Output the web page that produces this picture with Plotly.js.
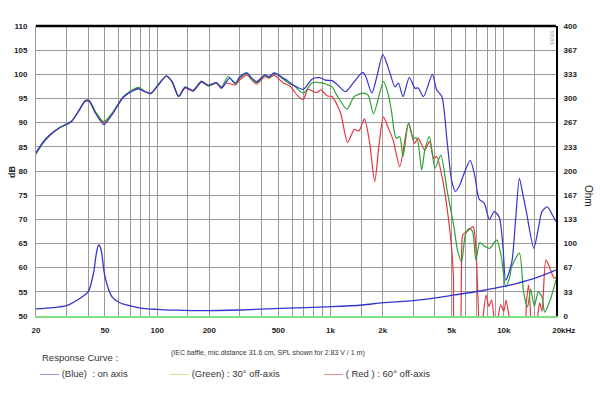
<!DOCTYPE html>
<html><head><meta charset="utf-8">
<script src="https://cdn.plot.ly/plotly-3.0.1.min.js"></script>
<style>html,body{margin:0;padding:0;background:#fff}#chart{width:600px;height:400px}</style>
</head><body><div id="chart"></div>
<script>
// ---- data ----
const blueFreq = [20,22,24.1,27.5,32.1,35.5,38.4,40.6,44,49.3,54.8,63.5,70,77.9,84,91.9,100,113,122,133,145,161,180,197,220,235,262,282,300,330,350,375,419,440,474,535,560,608,697,782,869,933,1021,1100,1222,1371,1535,1600,1731,1850,2003,2100,2206,2356,2465,2620,2848,3080,3200,3440,3870,4096,4390,4700,5000,5250,5520,5900,6400,6800,7200,7720,8250,8800,9400,9900,10250,11100,11700,12300,12900,13500,14900,15800,16600,17800,19000,20000];
const blueDb   = [83.8,86.0,87.5,89.0,90.3,92.6,94.5,94.5,92.0,89.6,91.6,95.2,96.3,97.0,96.5,96.1,97.5,99.7,98.5,95.4,97.3,96.6,98.5,97.8,98.3,97.2,99.2,98.2,99.5,100.3,99.3,98.5,99.9,99.5,100.3,99.2,98.8,97.8,96.9,99.0,99.3,98.8,98.7,97.8,96.4,98.5,100.4,99.5,96.1,99.5,104.1,102.5,100.2,97.4,98.2,95.4,99.3,97.1,97.2,95.4,100.0,96.8,95.4,86.4,78.0,75.8,76.8,79.5,82.2,79.0,74.2,73.3,70.0,71.6,70.5,64.0,57.4,61.0,70.0,78.5,75.0,71.5,64.0,68.0,71.6,72.6,71.0,69.5];

const greenFreq = [20,22,24.1,27.5,32.1,35.5,38.4,40.6,44,49.3,54.8,63.5,70,77.9,84,91.9,100,113,122,133,145,161,180,197,220,235,257,282,300,330,350,375,419,440,474,535,584,608,697,782,869,1021,1087,1243,1371,1535,1650,1770,2021,2150,2250,2390,2510,2620,2820,3000,3150,3360,3500,3720,4010,4330,4700,5150,5400,5700,6000,6300,6600,6900,7270,7700,8270,9100,9700,10250,10800,11100,12300,13000,13700,14300,15000,15800,16600,17200,18600,20000];
const greenDb   = [83.5,85.8,87.4,89.0,90.3,92.6,94.6,94.6,92.3,90.2,91.9,95.3,96.5,97.3,96.6,96.0,97.6,99.6,98.4,95.5,97.4,96.7,98.6,97.6,98.2,97.4,99.6,98.0,99.3,100.2,99.0,98.3,99.8,99.3,100.2,99.0,98.0,97.8,96.1,98.2,98.3,97.4,95.7,92.8,95.4,96.1,95.7,91.8,98.5,96.0,92.3,86.8,87.1,83.0,89.9,86.8,86.8,80.2,84.3,87.1,80.6,83.3,76.1,68.5,63.7,61.2,66.8,68.1,67.5,61.6,65.2,64.5,64.0,65.7,62.0,56.0,58.0,60.2,63.0,55.0,51.9,55.5,52.0,55.0,54.0,50.8,53.5,57.5];

const redFreq = [20,22,24.1,27.5,32.1,35.5,38.4,40.6,44,49.3,54.8,63.5,70,77.9,84,91.9,100,113,122,133,145,161,180,197,220,235,250,282,300,330,350,375,419,440,474,535,584,608,650,697,740,830,880,960,1021,1145,1255,1371,1460,1570,1680,1800,1900,2021,2150,2300,2510,2820,3050,3200,3500,3720,3950,4100,4440,4790,5000,5120,5250,5500,5700,5800,6100,6650,6900,7300,7600,7900,8200,8500,8800,9000,9300,9600,10000,10300,10700,11100,13000,13500,13900,14400,14700,15100,15700,16100,16600,17500,18600,19500,20000];
const redDb   = [83.6,85.9,87.5,89.0,90.3,92.6,94.4,94.4,92.1,89.9,91.7,95.2,96.4,97.1,96.5,96.0,97.5,99.6,98.4,95.4,97.2,96.5,98.4,97.6,98.1,97.1,98.2,97.8,98.9,99.9,98.9,98.0,99.5,99.2,99.8,98.2,97.6,96.8,95.5,94.8,96.9,96.2,96.8,95.5,95.4,91.9,85.9,88.6,88.3,90.8,86.0,77.8,85.0,91.2,89.0,86.4,80.9,89.9,85.7,86.8,84.3,86.1,82.6,83.0,78.1,70.2,64.0,58.0,45.0,45.0,60.0,66.8,67.4,68.5,64.0,45.0,50.0,54.3,52.0,53.3,49.0,45.0,50.0,52.3,51.0,53.3,50.0,45.0,45.0,53.0,56.4,48.0,45.0,45.0,50.0,52.7,51.0,61.6,59.5,57.8,58.0];

const impFreq = [20,25,30,35.9,40,42.9,44.5,45.9,47,47.9,50,54.8,60,66.7,80,99,130,177,300,511,1021,1530,2000,2500,3500,5200,7300,10300,15000,20000];
const impOhm  = [9.7,11.5,14.2,24.4,33.5,58.9,85,97.9,95,86.4,54.2,26.6,19,15.2,11,9.2,8,7.3,8.3,10.6,12.8,15.2,18.4,19.8,23,29,34.5,41.4,52,63.4];

const xGridVals  = [20,30,40,50,60,70,80,90,100,150,200,300,400,500,600,700,800,900,1000,1500,2000,3000,4000,5000,6000,7000,8000,9000,10000,15000,20000];
const xGridText  = ['20','','','50','','','','','100','','200','','','500','','','','','1k','','2k','','','5k','','','','','10k','','\u00a0\u00a0\u00a0\u00a0\u00a0\u00a0\u00a020kHz'];
const dbTicks    = [50,55,60,65,70,75,80,85,90,95,100,105,110];
const ohmTicks   = [0,33.333,66.667,100,133.333,166.667,200,233.333,266.667,300,333.333,366.667,400];
const ohmLabels  = ['0','33','67','100','133','167','200','233','267','300','333','367','400'];

const cBlue = '#3434d0', cGreen = '#2f9f35', cRed = '#e63540';

const traces = [
  {x: impFreq, y: impOhm, yaxis: 'y2', type: 'scatter', mode: 'lines', line: {color: cBlue, width: 1.3, shape: 'spline', smoothing: 0.8}, hoverinfo: 'skip'},
  {x: redFreq, y: redDb, type: 'scatter', mode: 'lines', line: {color: cRed, width: 1.2, shape: 'spline', smoothing: 0.7}, hoverinfo: 'skip'},
  {x: greenFreq, y: greenDb, type: 'scatter', mode: 'lines', line: {color: cGreen, width: 1.2, shape: 'spline', smoothing: 0.7}, hoverinfo: 'skip'},
  {x: blueFreq, y: blueDb, type: 'scatter', mode: 'lines', line: {color: cBlue, width: 1.2, shape: 'spline', smoothing: 0.7}, hoverinfo: 'skip'}
];

const tickFont = {family: 'Liberation Sans, Arial, sans-serif', size: 8, color: '#222', weight: 'bold'};
const legFont = {family: 'Liberation Sans, Arial, sans-serif', size: 9.5, color: '#333'};

function ann(x, y, text, opts) {
  return Object.assign({xref: 'paper', yref: 'paper', x: x, y: y, text: text, showarrow: false,
    xanchor: 'center', yanchor: 'middle'}, opts || {});
}

const layout = {
  width: 600, height: 400,
  margin: {l: 36, r: 44, t: 26, b: 84},
  paper_bgcolor: '#fff', plot_bgcolor: '#fff',
  showlegend: false,
  xaxis: {
    type: 'log', range: [Math.log10(20), Math.log10(20000)],
    tickmode: 'array', tickvals: xGridVals, ticktext: xGridText,
    showgrid: true, gridcolor: '#9a9a9a', gridwidth: 1,
    showline: true, linecolor: '#80e080', linewidth: 1.5,
    ticks: '', ticklabelstandoff: 6, tickfont: tickFont, zeroline: false
  },
  yaxis: {
    range: [50, 110], tickmode: 'array', tickvals: dbTicks,
    showgrid: true, gridcolor: '#9a9a9a', gridwidth: 1,
    showline: true, linecolor: '#9a9a9a', linewidth: 1,
    ticks: '', ticklabelstandoff: 6, tickfont: tickFont, zeroline: false
  },
  yaxis2: {
    overlaying: 'y', side: 'right', range: [0, 400],
    tickmode: 'array', tickvals: ohmTicks, ticktext: ohmLabels,
    showgrid: false, showline: true, linecolor: '#000', linewidth: 2,
    ticks: '', ticklabelstandoff: 4, tickfont: tickFont, zeroline: false
  },
  shapes: [
    {type: 'line', xref: 'paper', yref: 'paper', x0: 0, x1: 1, y0: 1, y1: 1, line: {color: '#000', width: 2.5}}
  ],
  annotations: [
    ann(-0.046, 0.497, 'dB', {textangle: -90, font: {family: 'Liberation Sans, Arial, sans-serif', size: 9, color: '#222', weight: 'bold'}}),
    ann(1.0615, 0.414, 'Ohm', {textangle: 90, font: {family: 'Liberation Sans, Arial, sans-serif', size: 10, color: '#222'}}),
    ann(0.993, 0.96, 'seas', {textangle: 90, font: {family: 'Liberation Sans, Arial, sans-serif', size: 7, color: '#aaa'}}),
    ann(0.446, -0.1276, '(IEC baffle, mic.distance 31.6 cm, SPL shown for 2.83 V / 1 m)',
        {font: {family: 'Liberation Sans Narrow, Arial Narrow, sans-serif', size: 7, color: '#333'}}),
    ann(0.0077, -0.1448, 'Response Curve :', {xanchor: 'left', font: legFont}),
    ann(0.0038, -0.1966, '<span style="color:#3a3ac0">——</span> (Blue)  : on axis', {xanchor: 'left', font: legFont}),
    ann(0.2538, -0.1966, '<span style="color:#b4cc3c">——</span> (Green) : 30° off-axis', {xanchor: 'left', font: legFont}),
    ann(0.55, -0.1966, '<span style="color:#e03040">——</span> ( Red ) : 60° off-axis', {xanchor: 'left', font: legFont})
  ]
};

Plotly.newPlot('chart', traces, layout, {staticPlot: true, displayModeBar: false});
</script>
</body></html>
